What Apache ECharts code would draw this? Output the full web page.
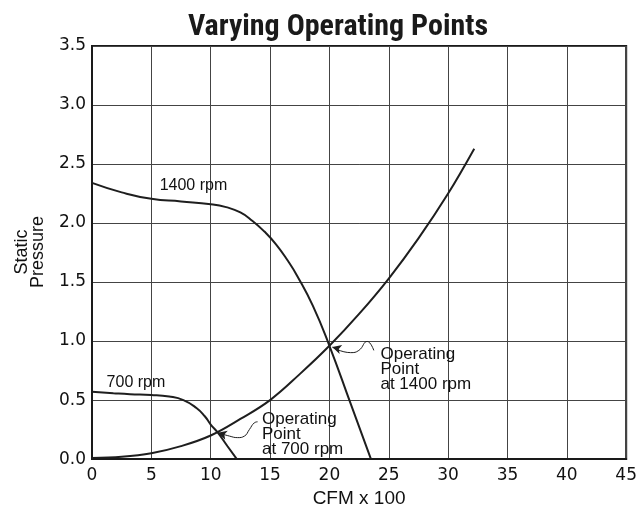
<!DOCTYPE html>
<html>
<head>
<meta charset="utf-8">
<script src="https://cdn.jsdelivr.net/npm/echarts@6/dist/echarts.min.js"></script>
<style>html,body{margin:0;padding:0;background:#fff;}#c{width:640px;height:513px;}</style>
</head>
<body>
<div id="c"></div>
<script>
// ---- data ----
const systemX = [0, 2.5, 5, 7.5, 10, 12.5, 15, 17.5, 20, 22.5, 25, 27.5, 30, 32.2];
const systemY = [0.01, 0.02, 0.05, 0.11, 0.2, 0.34, 0.5, 0.72, 0.96, 1.23, 1.53, 1.87, 2.25, 2.63];

const rpm1400X = [0, 2.5, 5, 7.5, 10, 11.3, 12.5, 13.5, 14.5, 15.5, 16.5, 17.3, 18.6, 20, 21.75, 23.5];
const rpm1400Y = [2.34, 2.26, 2.205, 2.183, 2.16, 2.135, 2.09, 2.02, 1.93, 1.82, 1.68, 1.55, 1.3, 0.96, 0.48, 0];

const rpm700X = [0, 1.8, 3.2, 5, 6.5, 7.7, 8.8, 9.5, 10.0, 10.6, 11.4, 12.2];
const rpm700Y = [0.57, 0.558, 0.55, 0.544, 0.53, 0.5, 0.433, 0.363, 0.293, 0.224, 0.111, 0];

// annotation arrows (from label toward operating point)
const arrow1400X = [23.74, 23.18, 22.48, 21.79, 20.24];
const arrow1400Y = [0.921, 0.997, 0.921, 0.902, 0.949];
const arrow700X = [13.95, 13.67, 13.26, 12.84, 12.27, 11.58, 10.6];
const arrow700Y = [0.316, 0.307, 0.251, 0.195, 0.182, 0.195, 0.224];

const xTicks = [0, 5, 10, 15, 20, 25, 30, 35, 40, 45];
const yTicks = [0.0, 0.5, 1.0, 1.5, 2.0, 2.5, 3.0, 3.5];

const labelTexts = [
  [5.7, 2.32, '1400 rpm'],
  [1.23, 0.65, '700 rpm']
];
const opTexts = [
  [24.3, 0.76, 'Operating\nPoint\nat 1400 rpm'],
  [14.32, 0.209, 'Operating\nPoint\nat 700 rpm']
];

const zip = (xs, ys) => xs.map((x, i) => [x, ys[i]]);

const chart = echarts.init(document.getElementById('c'), null, {renderer: 'canvas'});
const lineCol = '#1e1e1e';
const textCol = '#111';
const tickFont = 'DejaVu Sans';
const textFont = 'Liberation Sans';

chart.setOption({
  animation: false,
  backgroundColor: '#fff',
  graphic: [
    {type: 'text', x: 338, y: 27, style: {text: 'Varying Operating Points', textAlign: 'center', textVerticalAlign: 'middle',
      font: 'bold 30px "Liberation Sans Narrow", "Roboto Condensed", "Liberation Sans", sans-serif', fill: '#1a1a1a'}},
    {type: 'text', x: 30, y: 252, rotation: Math.PI / 2, style: {text: 'Static\nPressure', textAlign: 'center', textVerticalAlign: 'middle',
      font: '18px "Liberation Sans", sans-serif', lineHeight: 16, fill: textCol}}
  ],
  grid: {left: 92, right: 12, top: 46, bottom: 47, show: true, borderColor: '#1a1a1a', borderWidth: 2},
  xAxis: {
    type: 'value', min: 0, max: 45, interval: 5,
    name: 'CFM x 100', nameLocation: 'middle', nameGap: 27,
    nameTextStyle: {fontSize: 19, fontFamily: textFont, color: textCol},
    axisLine: {show: true, lineStyle: {color: '#1a1a1a', width: 2}},
    axisTick: {show: false},
    axisLabel: {fontSize: 17, fontFamily: tickFont, color: textCol, margin: 8,
      formatter: v => xTicks.includes(v) ? String(v) : ''},
    splitLine: {show: true, lineStyle: {color: '#444', width: 1}}
  },
  yAxis: {
    type: 'value', min: 0, max: 3.5, interval: 0.5,
    axisLine: {show: true, lineStyle: {color: '#1a1a1a', width: 2}},
    axisTick: {show: false},
    axisLabel: {fontSize: 17, fontFamily: tickFont, color: textCol, margin: 6,
      formatter: v => yTicks.some(t => Math.abs(t - v) < 1e-9) ? v.toFixed(1) : ''},
    splitLine: {show: true, lineStyle: {color: '#444', width: 1}}
  },
  series: [
    {type: 'line', name: 'system', data: zip(systemX, systemY), smooth: 0.4, showSymbol: false,
      lineStyle: {color: lineCol, width: 2}, z: 5},
    {type: 'line', name: '1400 rpm', data: zip(rpm1400X, rpm1400Y), smooth: 0.5, showSymbol: false,
      lineStyle: {color: lineCol, width: 2}, z: 5},
    {type: 'line', name: '700 rpm', data: zip(rpm700X, rpm700Y), smooth: 0.5, showSymbol: false,
      lineStyle: {color: lineCol, width: 2}, z: 5},
    {type: 'line', name: 'arrow1400', data: zip(arrow1400X, arrow1400Y), smooth: 0.5, showSymbol: false,
      lineStyle: {color: lineCol, width: 1}, z: 6},
    {type: 'line', name: 'arrow700', data: zip(arrow700X, arrow700Y), smooth: 0.5, showSymbol: false,
      lineStyle: {color: lineCol, width: 1}, z: 6},
    {type: 'scatter', name: 'arrowheads', symbol: 'arrow', symbolSize: [7, 9],
      data: [
        {value: [arrow1400X[arrow1400X.length - 1], arrow1400Y[arrow1400Y.length - 1]], symbolRotate: 74},
        {value: [arrow700X[arrow700X.length - 1], arrow700Y[arrow700Y.length - 1]], symbolRotate: 74}
      ],
      itemStyle: {color: lineCol, opacity: 1}, z: 7},
    {type: 'scatter', name: 'rpmLabels', symbolSize: 0, data: labelTexts, z: 8,
      itemStyle: {opacity: 1},
      label: {show: true, position: 'right', distance: 0, formatter: p => p.value[2],
        fontSize: 16, fontFamily: textFont, color: textCol, opacity: 1}},
    {type: 'scatter', name: 'opLabels', symbolSize: 0, data: opTexts, z: 8,
      itemStyle: {opacity: 1},
      label: {show: true, position: 'right', distance: 0, formatter: p => p.value[2],
        fontSize: 17, lineHeight: 15, fontFamily: textFont, color: textCol, align: 'left', opacity: 1}}
  ]
});
</script>
</body>
</html>
